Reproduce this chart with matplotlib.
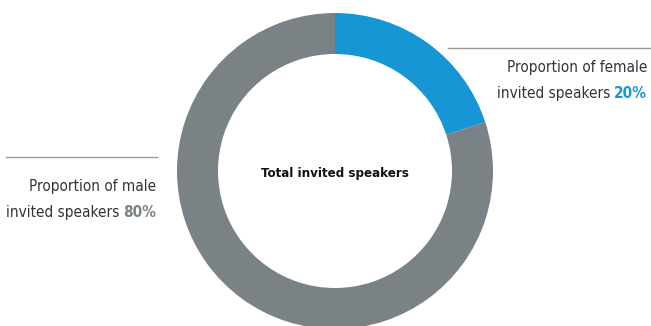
#!/usr/bin/env python3
import matplotlib
matplotlib.use("Agg")
import matplotlib.pyplot as plt

labels = ['female', 'male']
shares = [20, 80]
colors = ['#1796D6', '#7A8286']

plt.rcParams['font.family'] = ['DejaVu Sans']
plt.rcParams['font.stretch'] = 'condensed'

H = 326
fig = plt.figure(figsize=(6.51, 3.26), dpi=100)
ax = fig.add_axes([0, 0, 1, 1])

# donut, drawn in pixel coordinates (y measured from the top, flipped here)
ax.pie(shares, colors=colors, startangle=90, counterclock=False,
       center=(335, H - 171), radius=158, frame=True,
       wedgeprops=dict(width=41, linewidth=0))
ax.set_xlim(0, 651)
ax.set_ylim(0, H)
ax.set_aspect('equal')
ax.axis('off')

ax.text(335, H - 174, 'Total invited speakers', ha='center', va='center',
        fontsize=9.5, fontweight='bold', color='#111111')

# leader lines
ax.plot([448, 651], [H - 48, H - 48], color='#9a9a9a', lw=1)
ax.plot([6, 157], [H - 157, H - 157], color='#9a9a9a', lw=1)

fig.canvas.draw()
r = fig.canvas.get_renderer()

def label(x, y1, y2, line1, pct, pct_color):
    ax.text(x, H - y1, line1, ha='right', va='baseline', fontsize=11, color='#333333')
    t = ax.text(x, H - y2, pct, ha='right', va='baseline', fontsize=11,
                fontweight='bold', color=pct_color)
    w = t.get_window_extent(renderer=r).width
    ax.text(x - w - 4, H - y2, 'invited speakers', ha='right', va='baseline',
            fontsize=11, color='#333333')

label(647, 72, 98, 'Proportion of female', f'{shares[0]}%', colors[0])
label(156, 191, 217, 'Proportion of male', f'{shares[1]}%', colors[1])

fig.savefig('out.png', dpi=100)
